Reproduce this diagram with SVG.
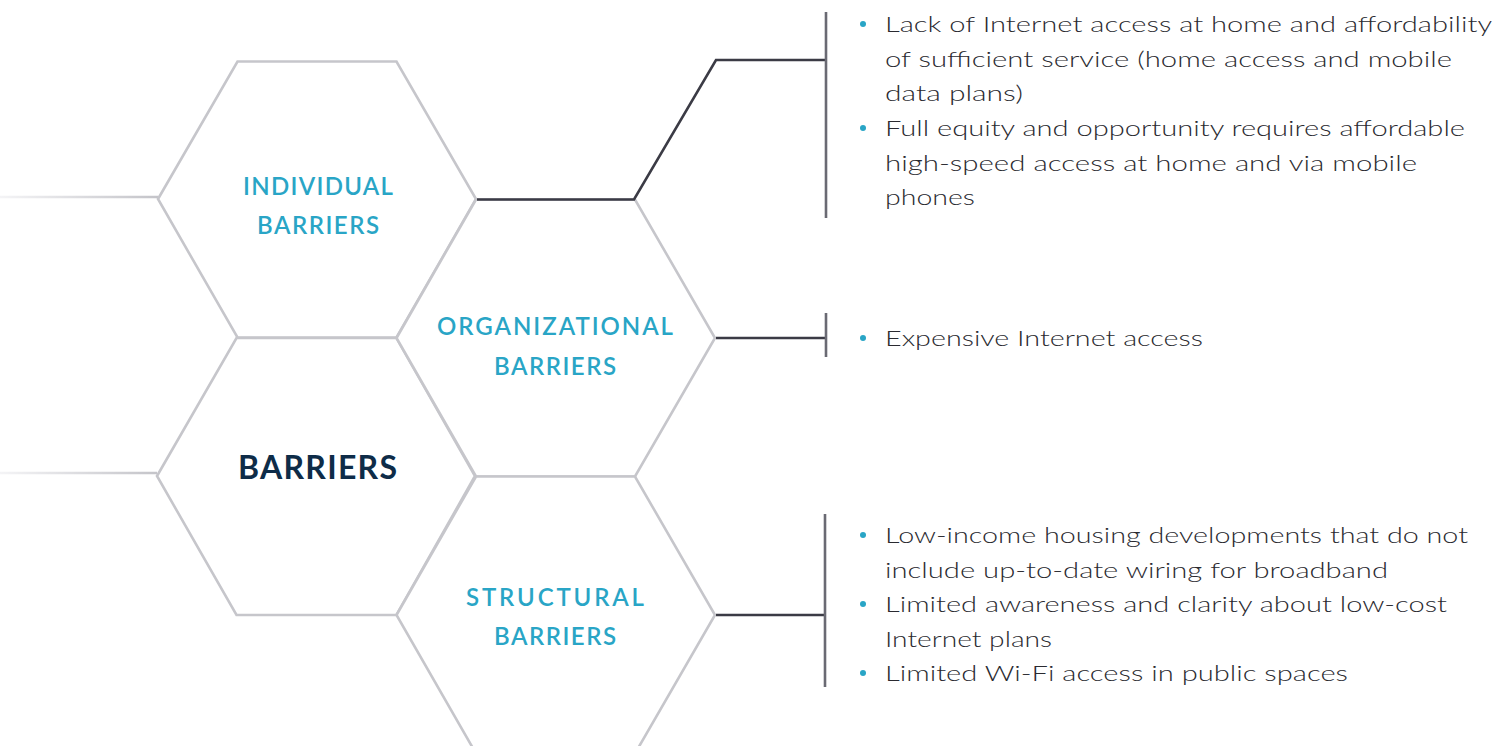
<svg xmlns="http://www.w3.org/2000/svg" width="1510" height="746" viewBox="0 0 1510 746">
  <defs>
    <linearGradient id="fadeL" gradientUnits="userSpaceOnUse" x1="0" y1="0" x2="158" y2="0">
      <stop offset="0" stop-color="#f4f4f6"/>
      <stop offset="1" stop-color="#c4c4c9"/>
    </linearGradient>
    <style>
      .hex { fill: #ffffff; stroke: #c6c6cb; stroke-width: 2.6; stroke-linejoin: miter; }
      .lbl { font-family: "Lato", "Liberation Sans", sans-serif; font-weight: 600; fill: #29a5c6; font-size: 24px; text-anchor: middle; }
      .main { font-family: "Lato", "Liberation Sans", sans-serif; font-weight: 700; fill: #0e2c48; font-size: 32px; text-anchor: middle; }
      .conn { fill: none; stroke: #3b3b45; stroke-width: 2.6; }
      .bar { fill: none; stroke: #6a6a73; stroke-width: 2.6; }
      .fade { fill: none; stroke: url(#fadeL); stroke-width: 2.6; }
      .txt { font-family: "Lato", "Liberation Sans", sans-serif; font-weight: 300; fill: #2a2a30; font-size: 21px; }
      .dot { fill: #29a5c6; }
    </style>
  </defs>
  <rect width="1510" height="746" fill="#ffffff"/>

  <g id="lead-lines">
    <line class="fade" x1="0" y1="197" x2="158" y2="197"/>
    <line class="fade" x1="0" y1="473" x2="157" y2="473"/>
  </g>

  <g id="hex-individual">
    <polygon class="hex" points="158,199 237.5,61.5 396.5,61.5 476,199 396.5,337.5 237.5,337.5"/>
    <text class="lbl" x="318" y="195" textLength="150" lengthAdjust="spacing">INDIVIDUAL</text>
    <text class="lbl" x="318" y="234" textLength="122" lengthAdjust="spacing">BARRIERS</text>
  </g>

  <g id="hex-barriers">
    <polygon class="hex" points="157,476 236.5,338 396.5,338 475,476 396.5,615 236.5,615"/>
    <text class="main" x="317.5" y="479" textLength="159" lengthAdjust="spacing">BARRIERS</text>
  </g>

  <g id="hex-organizational">
    <polygon class="hex" points="396.5,338 476,199.5 635,199.5 715,338 635,476.5 476,476.5"/>
    <text class="lbl" x="555" y="335" textLength="236" lengthAdjust="spacing">ORGANIZATIONAL</text>
    <text class="lbl" x="555" y="375" textLength="122" lengthAdjust="spacing">BARRIERS</text>
  </g>

  <g id="hex-structural">
    <polygon class="hex" points="396.5,615 476,476.5 635,476.5 715,615 635,753.5 476,753.5"/>
    <text class="lbl" x="555" y="606" textLength="178" lengthAdjust="spacing">STRUCTURAL</text>
    <text class="lbl" x="555" y="645" textLength="122" lengthAdjust="spacing">BARRIERS</text>
  </g>

  <g id="connectors">
    <polyline class="conn" points="477,199.5 634,199.5 716,60 825,60"/>
    <line class="bar" x1="826" y1="12" x2="826" y2="218"/>
    <line class="conn" x1="716" y1="338" x2="825" y2="338"/>
    <line class="bar" x1="826" y1="313" x2="826" y2="357"/>
    <line class="conn" x1="716" y1="615" x2="824" y2="615"/>
    <line class="bar" x1="825" y1="514" x2="825" y2="687"/>
  </g>

  <g id="list-individual">
    <circle class="dot" cx="863" cy="24" r="3"/>
    <text class="txt" x="885" y="32" textLength="607" lengthAdjust="spacingAndGlyphs">Lack of Internet access at home and affordability</text>
    <text class="txt" x="885" y="66.5" textLength="567" lengthAdjust="spacingAndGlyphs">of sufficient service (home access and mobile</text>
    <text class="txt" x="885" y="101" textLength="138" lengthAdjust="spacingAndGlyphs">data plans)</text>
    <circle class="dot" cx="863" cy="128" r="3"/>
    <text class="txt" x="885" y="136" textLength="580" lengthAdjust="spacingAndGlyphs">Full equity and opportunity requires affordable</text>
    <text class="txt" x="885" y="170.5" textLength="532" lengthAdjust="spacingAndGlyphs">high-speed access at home and via mobile</text>
    <text class="txt" x="885" y="205" textLength="90" lengthAdjust="spacingAndGlyphs">phones</text>
  </g>

  <g id="list-organizational">
    <circle class="dot" cx="863" cy="338" r="3"/>
    <text class="txt" x="885" y="345.5" textLength="318" lengthAdjust="spacingAndGlyphs">Expensive Internet access</text>
  </g>

  <g id="list-structural">
    <circle class="dot" cx="863" cy="535" r="3"/>
    <text class="txt" x="885" y="543" textLength="583" lengthAdjust="spacingAndGlyphs">Low-income housing developments that do not</text>
    <text class="txt" x="885" y="577.5" textLength="503" lengthAdjust="spacingAndGlyphs">include up-to-date wiring for broadband</text>
    <circle class="dot" cx="863" cy="604" r="3"/>
    <text class="txt" x="885" y="612" textLength="562" lengthAdjust="spacingAndGlyphs">Limited awareness and clarity about low-cost</text>
    <text class="txt" x="885" y="646.5" textLength="167" lengthAdjust="spacingAndGlyphs">Internet plans</text>
    <circle class="dot" cx="863" cy="673" r="3"/>
    <text class="txt" x="885" y="681" textLength="463" lengthAdjust="spacingAndGlyphs">Limited Wi-Fi access in public spaces</text>
  </g>
</svg>
